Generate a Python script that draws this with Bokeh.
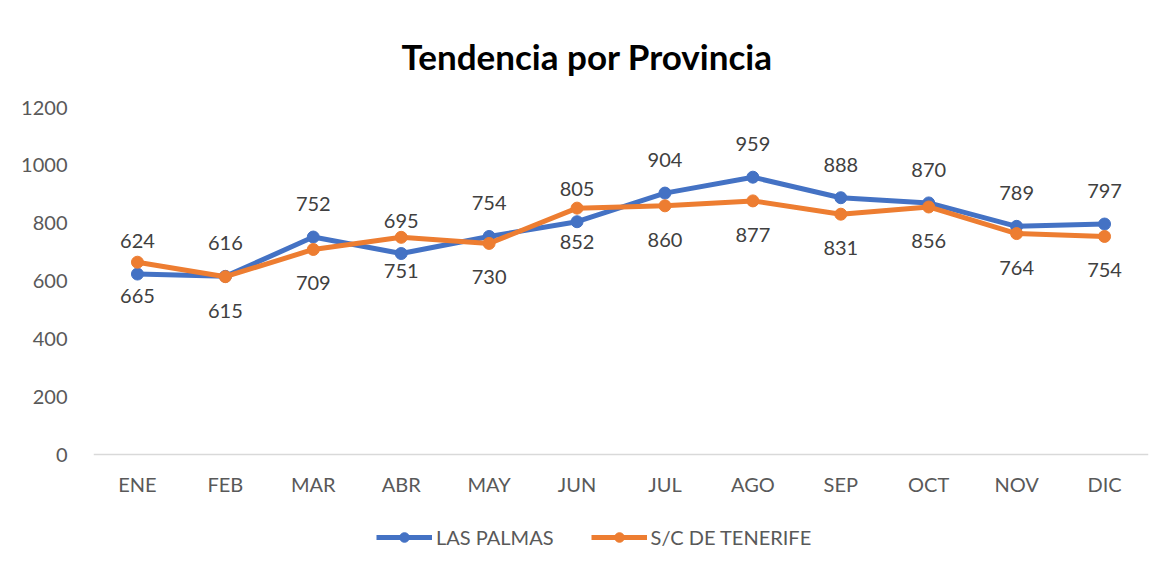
from bokeh.plotting import figure
from bokeh.models import FactorRange, Range1d, ColumnDataSource, LabelSet, Legend, LegendItem, Title, FixedTicker
from bokeh.core.properties import value
from bokeh.embed import file_html
from bokeh.resources import INLINE

months = ["ENE", "FEB", "MAR", "ABR", "MAY", "JUN", "JUL", "AGO", "SEP", "OCT", "NOV", "DIC"]
las_palmas = [624, 616, 752, 695, 754, 805, 904, 959, 888, 870, 789, 797]
tenerife = [665, 615, 709, 751, 730, 852, 860, 877, 831, 856, 764, 754]
series_names = ["LAS PALMAS", "S/C DE TENERIFE"]
y_ticks = [0, 200, 400, 600, 800, 1000, 1200]

BLUE = "#4472C4"
ORANGE = "#ED7D31"
FONT = "Lato"
TXT = "#595959"

# layout: frame spans from the top of the value axis down to the bottom of the chart,
# the category axis sits at value 0 and the legend lies in the space beneath it
TOP, BOTTOM, HEIGHT = 107, 8, 565
AXIS_PX = 347                     # pixels from 0 to 1200
frame_h = HEIGHT - TOP - BOTTOM
y_min = -1200.0 * (frame_h - AXIS_PX) / AXIS_PX

p = figure(width=1158, height=HEIGHT, x_range=FactorRange(factors=months), y_range=Range1d(y_min, 1200),
           output_backend="svg", toolbar_location=None,
           min_border_left=93, min_border_right=10, min_border_top=TOP, min_border_bottom=BOTTOM)
p.title = None
p.outline_line_color = None
p.xgrid.visible = False
p.ygrid.visible = False

t = Title(text="Tendencia por Provincia", align="left", offset=308, standoff=62,
          text_font=FONT, text_font_size="35px", text_font_style="bold", text_color="#000000")
p.add_layout(t, "above")

src = ColumnDataSource(dict(m=months, lp=las_palmas, tf=tenerife,
                            lpt=[str(v) for v in las_palmas], tft=[str(v) for v in tenerife]))

r1l = p.line("m", "lp", source=src, line_color=BLUE, line_width=5)
r1s = p.scatter("m", "lp", source=src, size=12, fill_color=BLUE, line_color=BLUE)
r2l = p.line("m", "tf", source=src, line_color=ORANGE, line_width=5)
r2s = p.scatter("m", "tf", source=src, size=12, fill_color=ORANGE, line_color=ORANGE)

p.add_layout(LabelSet(x="m", y="lp", text="lpt", source=src, y_offset=33, text_align="center",
                      text_baseline="middle", text_font=value(FONT), text_font_size=value("20px"),
                      text_color="#404040"))
p.add_layout(LabelSet(x="m", y="tf", text="tft", source=src, y_offset=-34, text_align="center",
                      text_baseline="middle", text_font=value(FONT), text_font_size=value("20px"),
                      text_color="#404040"))

p.yaxis.ticker = FixedTicker(ticks=y_ticks)
p.yaxis.axis_line_color = None
p.yaxis.major_tick_line_color = None
p.yaxis.minor_tick_line_color = None
p.yaxis.major_label_standoff = 20
p.yaxis.major_label_text_font = FONT
p.yaxis.major_label_text_font_size = "20px"
p.yaxis.major_label_text_color = TXT

p.xaxis.fixed_location = 0
p.xaxis.axis_line_color = "#d9d9d9"
p.xaxis.axis_line_width = 1.5
p.xaxis.major_tick_line_color = None
p.xaxis.minor_tick_line_color = None
p.xaxis.major_label_standoff = 11
p.xaxis.major_label_text_font = FONT
p.xaxis.major_label_text_font_size = "20px"
p.xaxis.major_label_text_color = TXT

legend = Legend(items=[LegendItem(label=series_names[0], renderers=[r1l, r1s]),
                       LegendItem(label=series_names[1], renderers=[r2l, r2s])],
                location=(283, 8), orientation="horizontal",
                glyph_width=56, glyph_height=24, label_height=24,
                label_standoff=4, spacing=37, padding=0, margin=0,
                label_text_font=FONT, label_text_font_size="20px", label_text_color=TXT,
                border_line_color=None, background_fill_alpha=0)
p.add_layout(legend, "center")

open("out.html", "w").write(file_html(p, INLINE))
